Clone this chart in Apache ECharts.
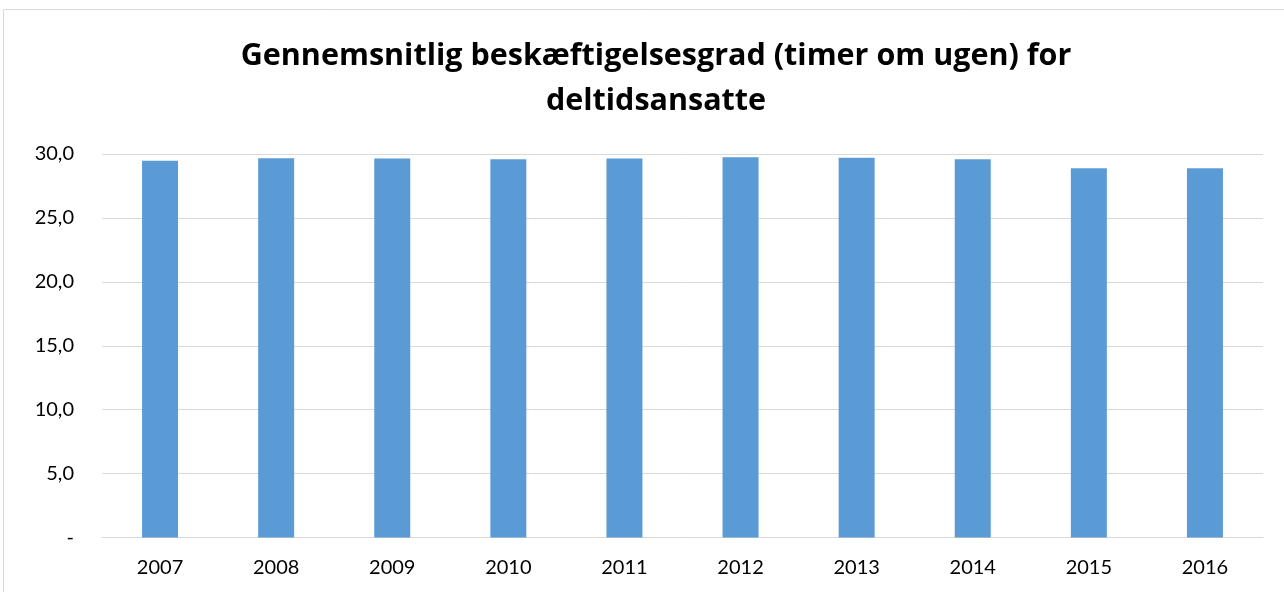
<!DOCTYPE html>
<html>
<head>
<meta charset="utf-8">
<script src="https://cdn.jsdelivr.net/npm/echarts@6/dist/echarts.min.js"></script>
<style>
  html, body { margin: 0; padding: 0; background: #fff; }
  #main { width: 1284px; height: 592px; }
</style>
</head>
<body>
<div id="main"></div>
<script>
var years = ['2007', '2008', '2009', '2010', '2011', '2012', '2013', '2014', '2015', '2016'];
var hours = [29.48, 29.66, 29.64, 29.58, 29.64, 29.74, 29.71, 29.58, 28.88, 28.88];
var yTicks = [0, 5, 10, 15, 20, 25, 30];

var chart = echarts.init(document.getElementById('main'));
chart.setOption({
    animation: false,
    title: {
        text: 'Gennemsnitlig beskæftigelsesgrad (timer om ugen) for\ndeltidsansatte',
        left: 651,
        top: 29,
        textAlign: 'center',
        textStyle: {
            fontFamily: 'Open Sans',
            fontWeight: 'bold',
            fontSize: 30.5,
            lineHeight: 45,
            color: '#000'
        }
    },
    graphic: [{
        type: 'rect',
        shape: { x: 3.5, y: 9.5, width: 1300, height: 600 },
        style: { fill: 'none', stroke: '#d9d9d9', lineWidth: 1 }
    }],
    grid: { left: 102, right: 21, top: 154, bottom: 54.5 },
    xAxis: {
        type: 'category',
        data: years,
        axisLine: { lineStyle: { color: '#d9d9d9', width: 1 } },
        axisTick: { show: false },
        axisLabel: { color: '#000', fontFamily: 'Lato', fontSize: 20, margin: 20 }
    },
    yAxis: {
        type: 'value',
        min: yTicks[0],
        max: yTicks[yTicks.length - 1],
        interval: 5,
        axisLine: { show: false },
        axisTick: { show: false },
        splitLine: { lineStyle: { color: '#d9d9d9', width: 1 } },
        axisLabel: {
            color: '#000', fontFamily: 'Lato', fontSize: 20, margin: 28,
            formatter: function (v) { return v === 0 ? '-' : v.toFixed(1).replace('.', ','); }
        }
    },
    series: [{
        type: 'bar',
        data: hours,
        barWidth: '31%',
        itemStyle: { color: '#5b9bd5' }
    }]
});
</script>
</body>
</html>
